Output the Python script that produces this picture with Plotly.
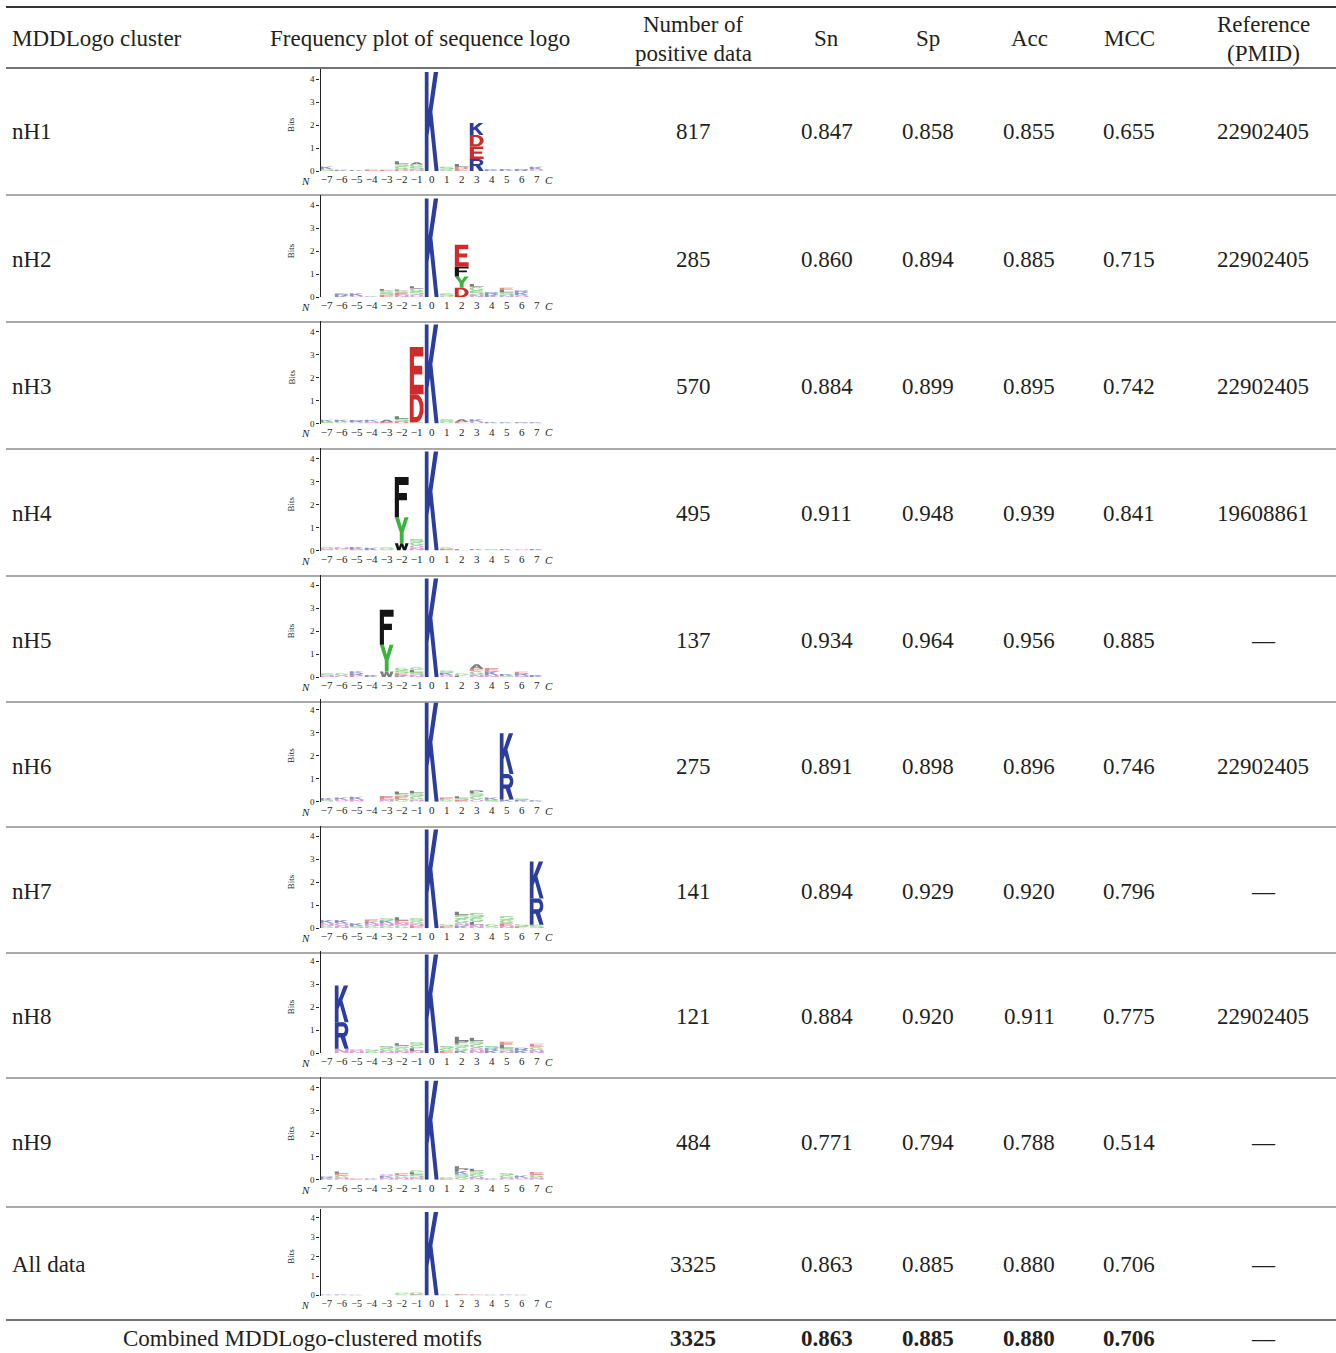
import numpy as np
import plotly.graph_objects as go

# ---------------------------------------------------------------- table data
CLUSTERS = ["nH1", "nH2", "nH3", "nH4", "nH5", "nH6", "nH7", "nH8", "nH9", "All data"]
N_POSITIVE = [817, 285, 570, 495, 137, 275, 141, 121, 484, 3325]
SN = [0.847, 0.860, 0.884, 0.911, 0.934, 0.891, 0.894, 0.884, 0.771, 0.863]
SP = [0.858, 0.894, 0.899, 0.948, 0.964, 0.898, 0.929, 0.920, 0.794, 0.885]
ACC = [0.855, 0.885, 0.895, 0.939, 0.956, 0.896, 0.920, 0.911, 0.788, 0.880]
MCC = [0.655, 0.715, 0.742, 0.841, 0.885, 0.746, 0.796, 0.775, 0.514, 0.706]
REFERENCE = ["22902405", "22902405", "22902405", "19608861", "—",
             "22902405", "—", "22902405", "—", "—"]

COMBINED_LABEL = "Combined MDDLogo-clustered motifs"
COMBINED = {"n": 3325, "sn": 0.863, "sp": 0.885, "acc": 0.880, "mcc": 0.706, "ref": "—"}

# column headings; two-line headings are given as (upper, lower)
HEADERS = ["MDDLogo cluster", "Frequency plot of sequence logo", ("Number of", "positive data"),
           "Sn", "Sp", "Acc", "MCC", ("Reference", "(PMID)")]

# sequence-logo stacks: position -> [(residue, bits), ...] listed bottom to top
POSITIONS = list(range(-7, 8))
LOGO_NH1 = {
    -7: [("S", 0.08), ("K", 0.12)], -6: [("K", 0.05)], -5: [("K", 0.04)],
    -4: [("E", 0.07)], -3: [("E", 0.05)],
    -2: [("D", 0.08), ("G", 0.12), ("S", 0.1), ("L", 0.12)],
    -1: [("N", 0.08), ("S", 0.1), ("G", 0.1), ("A", 0.1)],
    0: [("K", 4.3)],
    1: [("G", 0.08), ("S", 0.1)],
    2: [("E", 0.08), ("D", 0.1), ("L", 0.12)],
    3: [("R", 0.52), ("E", 0.55), ("D", 0.5), ("K", 0.52)],
    4: [("K", 0.08)], 5: [("K", 0.09)], 6: [("R", 0.09)], 7: [("Q", 0.06), ("K", 0.12)],
}
LOGO_NH2 = {
    -6: [("K", 0.06), ("R", 0.1)], -5: [("Q", 0.06), ("K", 0.12)], -4: [("K", 0.03)],
    -3: [("E", 0.1), ("S", 0.1), ("G", 0.08), ("L", 0.08)],
    -2: [("N", 0.1), ("E", 0.1), ("G", 0.08), ("L", 0.06)],
    -1: [("Q", 0.12), ("S", 0.14), ("G", 0.12), ("L", 0.1)],
    0: [("K", 4.3)],
    1: [("G", 0.06), ("S", 0.1)],
    2: [("D", 0.42), ("Y", 0.48), ("F", 0.44), ("E", 0.94)],
    3: [("N", 0.12), ("S", 0.16), ("G", 0.18), ("L", 0.12)],
    4: [("K", 0.1), ("R", 0.12)],
    5: [("N", 0.1), ("S", 0.12), ("L", 0.1), ("E", 0.1)],
    6: [("Q", 0.1), ("K", 0.1), ("R", 0.1)],
}
LOGO_NH3 = {
    -7: [("S", 0.06), ("K", 0.1)], -6: [("G", 0.06), ("K", 0.1)], -5: [("Q", 0.05), ("R", 0.1)],
    -4: [("N", 0.08), ("K", 0.08)], -3: [("E", 0.06), ("A", 0.1)],
    -2: [("D", 0.1), ("S", 0.1), ("L", 0.12)],
    -1: [("S", 0.05), ("D", 1.22), ("E", 2.06)],
    0: [("K", 4.3)],
    1: [("G", 0.08), ("S", 0.1)], 2: [("E", 0.08), ("A", 0.1)], 3: [("Q", 0.08), ("K", 0.1)],
    4: [("K", 0.06)], 5: [("K", 0.05)], 6: [("R", 0.05)], 7: [("K", 0.05)],
}
LOGO_NH4 = {
    -7: [("S", 0.06), ("Q", 0.08)], -6: [("G", 0.06), ("N", 0.08)], -5: [("E", 0.05), ("K", 0.1)],
    -4: [("K", 0.12)], -3: [("Q", 0.05), ("S", 0.08)],
    -2: [("W", 0.32), ("Y", 1.13), ("F", 1.75)],
    -1: [("N", 0.12), ("Q", 0.1), ("G", 0.14), ("S", 0.14)],
    0: [("K", 4.3)],
    1: [("E", 0.06), ("G", 0.08)], 2: [("L", 0.05)], 3: [("K", 0.06)], 4: [("S", 0.05)],
    5: [("K", 0.06)], 6: [("Q", 0.06)], 7: [("K", 0.06)],
}
LOGO_NH5 = {
    -7: [("N", 0.06), ("S", 0.1)], -6: [("Q", 0.08), ("G", 0.1)],
    -5: [("E", 0.08), ("R", 0.1), ("K", 0.08)], -4: [("K", 0.1)],
    -3: [("W", 0.25), ("Y", 1.16), ("F", 1.53)],
    -2: [("K", 0.08), ("E", 0.1), ("S", 0.12), ("G", 0.12)],
    -1: [("N", 0.1), ("S", 0.12), ("L", 0.1), ("G", 0.12)],
    0: [("K", 4.3)],
    1: [("Q", 0.1), ("K", 0.1), ("S", 0.1)], 2: [("L", 0.08), ("G", 0.1)],
    3: [("N", 0.12), ("G", 0.15), ("E", 0.1), ("A", 0.2)],
    4: [("N", 0.1), ("K", 0.15), ("E", 0.15)], 5: [("S", 0.06), ("K", 0.08)],
    6: [("N", 0.08), ("R", 0.1), ("E", 0.06)], 7: [("K", 0.1)],
}
LOGO_NH6 = {
    -7: [("S", 0.06), ("K", 0.1)], -6: [("Q", 0.08), ("K", 0.1)], -5: [("N", 0.1), ("K", 0.12)],
    -3: [("N", 0.1), ("E", 0.15)],
    -2: [("G", 0.1), ("E", 0.14), ("S", 0.1), ("L", 0.1)],
    -1: [("N", 0.1), ("G", 0.14), ("S", 0.14), ("L", 0.1)],
    0: [("K", 4.3)],
    1: [("G", 0.08), ("E", 0.1)], 2: [("E", 0.08), ("S", 0.08), ("L", 0.08)],
    3: [("Q", 0.1), ("G", 0.15), ("S", 0.12), ("P", 0.12)],
    4: [("S", 0.08), ("K", 0.1)],
    5: [("K", 0.1), ("R", 1.1), ("K", 1.78)],
    6: [("K", 0.07), ("S", 0.07)], 7: [("K", 0.06)],
}
LOGO_NH7 = {
    -7: [("G", 0.1), ("N", 0.12), ("K", 0.14)], -6: [("N", 0.1), ("Q", 0.12), ("K", 0.14)],
    -5: [("S", 0.1), ("K", 0.12)],
    -4: [("G", 0.1), ("N", 0.1), ("K", 0.08), ("E", 0.1)],
    -3: [("G", 0.1), ("N", 0.12), ("K", 0.12), ("S", 0.1)],
    -2: [("G", 0.12), ("N", 0.12), ("E", 0.1), ("L", 0.14)],
    -1: [("E", 0.1), ("N", 0.1), ("G", 0.12), ("S", 0.12)],
    0: [("K", 4.3)],
    1: [("E", 0.1), ("S", 0.08)],
    2: [("K", 0.1), ("N", 0.12), ("G", 0.2), ("S", 0.16), ("L", 0.14)],
    3: [("N", 0.15), ("L", 0.12), ("G", 0.2), ("S", 0.2)],
    4: [("S", 0.08), ("G", 0.1)],
    5: [("N", 0.1), ("E", 0.12), ("G", 0.15), ("S", 0.15)],
    6: [("E", 0.08), ("S", 0.1)],
    7: [("S", 0.15), ("R", 1.15), ("K", 1.6)],
}
LOGO_NH8 = {
    -6: [("N", 0.2), ("R", 1.15), ("K", 1.6)],
    -5: [("N", 0.1), ("Q", 0.08)], -4: [("G", 0.1), ("S", 0.08)],
    -3: [("N", 0.1), ("G", 0.12), ("S", 0.1)],
    -2: [("N", 0.12), ("G", 0.12), ("S", 0.1), ("L", 0.1)],
    -1: [("N", 0.1), ("L", 0.12), ("G", 0.14), ("S", 0.12)],
    0: [("K", 4.3)],
    1: [("E", 0.1), ("G", 0.12), ("S", 0.1)],
    2: [("K", 0.12), ("G", 0.16), ("S", 0.14), ("P", 0.12), ("L", 0.18)],
    3: [("N", 0.14), ("Q", 0.1), ("G", 0.16), ("S", 0.14), ("L", 0.14)],
    4: [("K", 0.12), ("R", 0.1), ("S", 0.1)],
    5: [("N", 0.1), ("S", 0.12), ("L", 0.14), ("E", 0.14)],
    6: [("K", 0.12), ("R", 0.12)],
    7: [("N", 0.14), ("G", 0.14), ("E", 0.14)],
}
LOGO_NH9 = {
    -7: [("K", 0.06), ("R", 0.08)],
    -6: [("N", 0.08), ("G", 0.1), ("E", 0.1), ("L", 0.08)],
    -5: [("E", 0.05)], -4: [("K", 0.05)],
    -3: [("N", 0.08), ("K", 0.08), ("Q", 0.08)],
    -2: [("N", 0.08), ("G", 0.1), ("E", 0.1)],
    -1: [("N", 0.1), ("S", 0.14), ("L", 0.08), ("G", 0.1)],
    0: [("K", 4.3)],
    1: [("E", 0.05), ("G", 0.06)],
    2: [("G", 0.12), ("S", 0.12), ("K", 0.14), ("P", 0.1), ("L", 0.1)],
    3: [("N", 0.12), ("G", 0.14), ("S", 0.12), ("L", 0.1)],
    4: [("K", 0.05)],
    5: [("N", 0.08), ("G", 0.12), ("S", 0.08)],
    6: [("Q", 0.08), ("K", 0.1)],
    7: [("N", 0.1), ("G", 0.12), ("E", 0.12)],
}
LOGO_ALL = {
    -7: [("K", 0.05)], -6: [("K", 0.05)], -5: [("K", 0.04)],
    -2: [("G", 0.06), ("S", 0.08)], -1: [("E", 0.06), ("G", 0.1)],
    0: [("K", 4.3)],
    1: [("G", 0.06)], 2: [("E", 0.08)], 3: [("E", 0.05)],
    4: [("K", 0.04)], 5: [("K", 0.05)], 6: [("K", 0.04)],
}
LOGOS = [LOGO_NH1, LOGO_NH2, LOGO_NH3, LOGO_NH4, LOGO_NH5,
         LOGO_NH6, LOGO_NH7, LOGO_NH8, LOGO_NH9, LOGO_ALL]

# residue colouring (chemistry scheme)
BLUE, RED, GREEN, BLACK, PURPLE = "#2c3d9c", "#d12a2a", "#3cb43c", "#141414", "#c24fc0"
RESIDUE_COLOR = {}
for aa in "KRH":
    RESIDUE_COLOR[aa] = BLUE
for aa in "DE":
    RESIDUE_COLOR[aa] = RED
for aa in "STGYC":
    RESIDUE_COLOR[aa] = GREEN
for aa in "NQ":
    RESIDUE_COLOR[aa] = PURPLE
for aa in "AVLIPWFM":
    RESIDUE_COLOR[aa] = BLACK


# ---------------------------------------------------------------- glyph outlines (unit box)
def arc(cx, cy, rx, ry, a0, a1, n=16):
    t = np.radians(np.linspace(a0, a1, n))
    return list(zip(cx + rx * np.cos(t), cy + ry * np.sin(t)))


GLYPHS = {
    "K": [[(0, 0), (0.27, 0), (0.27, 0.36), (0.37, 0.46), (0.71, 0), (1, 0), (0.55, 0.6),
           (0.97, 1), (0.65, 1), (0.27, 0.62), (0.27, 1), (0, 1)]],
    "R": [[(0, 0), (0.27, 0), (0.27, 0.42), (0.42, 0.42), (0.70, 0), (1.0, 0), (0.74, 0.46)]
          + arc(0.6, 0.71, 0.38, 0.29, -55, 90) + [(0, 1)],
          [(0.27, 0.59), (0.58, 0.59)] + arc(0.58, 0.715, 0.15, 0.125, -90, 90) + [(0.27, 0.84)]],
    "D": [[(0, 0), (0.45, 0)] + arc(0.45, 0.5, 0.55, 0.5, -90, 90) + [(0, 1)],
          [(0.28, 0.19), (0.45, 0.19)] + arc(0.45, 0.5, 0.27, 0.31, -90, 90) + [(0.28, 0.81)]],
    "P": [[(0, 0), (0.28, 0), (0.28, 0.38), (0.6, 0.38)] + arc(0.6, 0.69, 0.4, 0.31, -90, 90) + [(0, 1)],
          [(0.28, 0.56), (0.58, 0.56)] + arc(0.58, 0.69, 0.16, 0.13, -90, 90) + [(0.28, 0.82)]],
    "Q": [arc(0.5, 0.5, 0.5, 0.5, 0, 360, 28), arc(0.5, 0.5, 0.26, 0.3, 0, 360, 28)],
    "C": [arc(0.5, 0.5, 0.5, 0.5, 40, 320, 24) + arc(0.5, 0.5, 0.25, 0.3, 320, 40, 24)],
    "G": [arc(0.5, 0.5, 0.5, 0.5, 40, 360, 24)
          + [(0.55, 0.5), (0.55, 0.37)] + arc(0.5, 0.5, 0.26, 0.3, 335, 40, 20)],
    "S": [[(0, 0), (0.85, 0), (1, 0.12), (1, 0.5), (0.85, 0.6), (0.3, 0.6), (0.3, 0.8),
           (0.95, 0.8), (0.95, 1), (0.15, 1), (0, 0.88), (0, 0.52), (0.15, 0.42),
           (0.7, 0.42), (0.7, 0.2), (0, 0.2)]],
    "E": [[(0, 0), (1, 0), (1, 0.2), (0.3, 0.2), (0.3, 0.42), (0.9, 0.42), (0.9, 0.6),
           (0.3, 0.6), (0.3, 0.8), (0.98, 0.8), (0.98, 1), (0, 1)]],
    "F": [[(0, 0), (0.3, 0), (0.3, 0.42), (0.88, 0.42), (0.88, 0.6), (0.3, 0.6),
           (0.3, 0.8), (1, 0.8), (1, 1), (0, 1)]],
    "Y": [[(0.36, 0), (0.64, 0), (0.64, 0.42), (1, 1), (0.7, 1), (0.5, 0.64), (0.3, 1),
           (0, 1), (0.36, 0.42)]],
    "W": [[(0.18, 0), (0.4, 0), (0.5, 0.55), (0.6, 0), (0.82, 0), (1, 1), (0.76, 1),
           (0.7, 0.45), (0.6, 1), (0.4, 1), (0.3, 0.45), (0.24, 1), (0, 1)]],
    "A": [[(0, 0), (0.28, 0), (0.35, 0.22), (0.65, 0.22), (0.72, 0), (1, 0), (0.64, 1), (0.36, 1)],
          [(0.42, 0.4), (0.58, 0.4), (0.5, 0.7)]],
    "T": [[(0.35, 0), (0.65, 0), (0.65, 0.8), (1, 0.8), (1, 1), (0, 1), (0, 0.8), (0.35, 0.8)]],
    "L": [[(0, 0), (1, 0), (1, 0.2), (0.3, 0.2), (0.3, 1), (0, 1)]],
    "V": [[(0.35, 0), (0.65, 0), (1, 1), (0.72, 1), (0.5, 0.3), (0.28, 1), (0, 1)]],
    "H": [[(0, 0), (0.28, 0), (0.28, 0.42), (0.72, 0.42), (0.72, 0), (1, 0), (1, 1),
           (0.72, 1), (0.72, 0.6), (0.28, 0.6), (0.28, 1), (0, 1)]],
    "I": [[(0.35, 0), (0.65, 0), (0.65, 1), (0.35, 1)]],
    "N": [[(0, 0), (0.27, 0), (0.27, 0.6), (0.73, 0), (1, 0), (1, 1), (0.73, 1),
           (0.73, 0.4), (0.27, 1), (0, 1)]],
    "M": [[(0, 0), (0.22, 0), (0.22, 0.65), (0.4, 0), (0.6, 0), (0.78, 0.65), (0.78, 0),
           (1, 0), (1, 1), (0.7, 1), (0.5, 0.35), (0.3, 1), (0, 1)]],
}


def glyph_path(letter, pos, base, height, width=0.92):
    parts = []
    for ring in GLYPHS[letter]:
        pts = [(pos - width / 2 + ux * width, base + uy * height) for ux, uy in ring]
        parts.append("M " + " L ".join(f"{x:.4f},{y:.4f}" for x, y in pts) + " Z")
    return " ".join(parts)


# ---------------------------------------------------------------- layout geometry (pixels)
W, H = 1336, 1353
FONT = "Liberation Serif"
INK = "#231f20"


def fx(x):
    return x / W


def fy(y):
    return 1 - y / H


ROW_CENTER = [132, 259, 386, 513, 640, 766, 891, 1016, 1142, 1264]
COMBINED_Y = 1338
HEADER_Y, HEADER_Y2 = 39, (25, 53)
COL_X = {"n": 693, "sn": 827, "sp": 928, "acc": 1029, "mcc": 1129, "ref": 1263}
RULES = [68, 195, 322, 449, 576, 702, 827, 953, 1078, 1207]

LOGO_BASE = [171, 297.3, 423.5, 550.5, 677.3, 801.7, 928.3, 1053.3, 1179.7, 1295.5]
LOGO_SCALE = [23.0] * 9 + [19.4]          # pixels per bit
POS0_PX, PX_PER_POS = 431.7, 15.0
X_LEFT, X_RIGHT = 320.5, 553.0
Y_TOP = 4.45


def note(x, y, text, font, xanchor="center", **kw):
    return dict(x=fx(x), y=fy(y), xref="paper", yref="paper", text=text,
                showarrow=False, xanchor=xanchor, yanchor="middle", font=font, **kw)


fig = go.Figure()
shapes, annotations = [], []
layout_axes = {}

for i, (logo, base, s) in enumerate(zip(LOGOS, LOGO_BASE, LOGO_SCALE)):
    k = "" if i == 0 else str(i + 1)
    xref, yref = "x" + k, "y" + k
    small = i == 9
    tick_size = 10 if small else 11
    layout_axes["xaxis" + k] = dict(
        domain=[fx(X_LEFT), fx(X_RIGHT)],
        range=[(X_LEFT - POS0_PX) / PX_PER_POS, (X_RIGHT - POS0_PX) / PX_PER_POS],
        anchor=yref, tickmode="array", tickvals=POSITIONS,
        ticktext=[("−" + str(-p)) if p < 0 else str(p) for p in POSITIONS],
        tickfont=dict(family=FONT, size=tick_size, color=INK),
        showgrid=False, zeroline=False, showline=False, ticks="", fixedrange=True,
    )
    layout_axes["yaxis" + k] = dict(
        domain=[fy(base), fy(base - Y_TOP * s)],
        range=[0, Y_TOP], anchor=xref, tickmode="array", tickvals=[0, 1, 2, 3, 4],
        tickfont=dict(family=FONT, size=tick_size - 2, color=INK),
        ticks="outside", ticklen=3, tickwidth=1, tickcolor=INK,
        showline=True, linecolor=INK, linewidth=1.2,
        showgrid=False, zeroline=False, fixedrange=True,
    )
    fig.add_trace(go.Scatter(x=[None], y=[None], xaxis=xref, yaxis=yref,
                             showlegend=False, hoverinfo="skip"))

    # stacked residues
    for pos, stack in logo.items():
        y0 = 0.0
        for letter, bits in stack:
            shapes.append(dict(
                type="path", path=glyph_path(letter, pos, y0, bits),
                xref=xref, yref=yref, fillcolor=RESIDUE_COLOR[letter],
                fillrule="evenodd", line=dict(width=0),
                opacity=0.55 if bits < 0.3 else 1.0, layer="above",
            ))
            y0 += bits

    # axis decorations
    annotations.append(note(291, base - 2 * s, "Bits",
                            dict(family=FONT, size=9, color=INK), textangle=-90))
    annotations.append(note(305, base + 10, "<i>N</i>",
                            dict(family=FONT, size=tick_size, color=INK)))
    annotations.append(note(548.5, base + 9, "<i>C</i>",
                            dict(family=FONT, size=tick_size, color=INK)))

# ---------------------------------------------------------------- table text
TXT = dict(family=FONT, size=23, color=INK)
head_x = [10, 420, COL_X["n"], COL_X["sn"], COL_X["sp"], COL_X["acc"], COL_X["mcc"], COL_X["ref"]]
for j, (hx, htxt) in enumerate(zip(head_x, HEADERS)):
    anchor = "left" if j == 0 else "center"
    if isinstance(htxt, tuple):
        for line, ly in zip(htxt, HEADER_Y2):
            annotations.append(note(hx, ly, line, TXT, xanchor=anchor))
    else:
        annotations.append(note(hx, HEADER_Y, htxt, TXT, xanchor=anchor))

for r, name in enumerate(CLUSTERS):
    yc = ROW_CENTER[r]
    annotations.append(note(10, yc, name, TXT, xanchor="left"))
    cells = [(COL_X["n"], str(N_POSITIVE[r])), (COL_X["sn"], f"{SN[r]:.3f}"),
             (COL_X["sp"], f"{SP[r]:.3f}"), (COL_X["acc"], f"{ACC[r]:.3f}"),
             (COL_X["mcc"], f"{MCC[r]:.3f}"), (COL_X["ref"], REFERENCE[r])]
    for cx, txt in cells:
        annotations.append(note(cx, yc, txt, TXT))

annotations.append(note(302, COMBINED_Y, COMBINED_LABEL, TXT))
for key, fmt in (("n", "{}"), ("sn", "{:.3f}"), ("sp", "{:.3f}"), ("acc", "{:.3f}"),
                 ("mcc", "{:.3f}")):
    annotations.append(note(COL_X[key], COMBINED_Y, "<b>" + fmt.format(COMBINED[key]) + "</b>", TXT))
annotations.append(note(COL_X["ref"], COMBINED_Y, COMBINED["ref"], TXT))

# ---------------------------------------------------------------- table rules
def rule(y, color, width):
    return dict(type="line", xref="paper", yref="paper", x0=fx(6), x1=1,
                y0=fy(y), y1=fy(y), line=dict(color=color, width=width), layer="below")


shapes.append(rule(7, "#333333", 2))
for j, ry in enumerate(RULES):
    shapes.append(rule(ry, "#444444" if j == 0 else "#555555", 1.6 if j == 0 else 1.2))
shapes.append(rule(1320, "#444444", 1.6))

fig.update_layout(
    width=W, height=H,
    margin=dict(l=0, r=0, t=0, b=0, pad=0, autoexpand=False),
    paper_bgcolor="white", plot_bgcolor="rgba(0,0,0,0)",
    showlegend=False, shapes=shapes, annotations=annotations, **layout_axes,
)
fig.write_html("out.html")
